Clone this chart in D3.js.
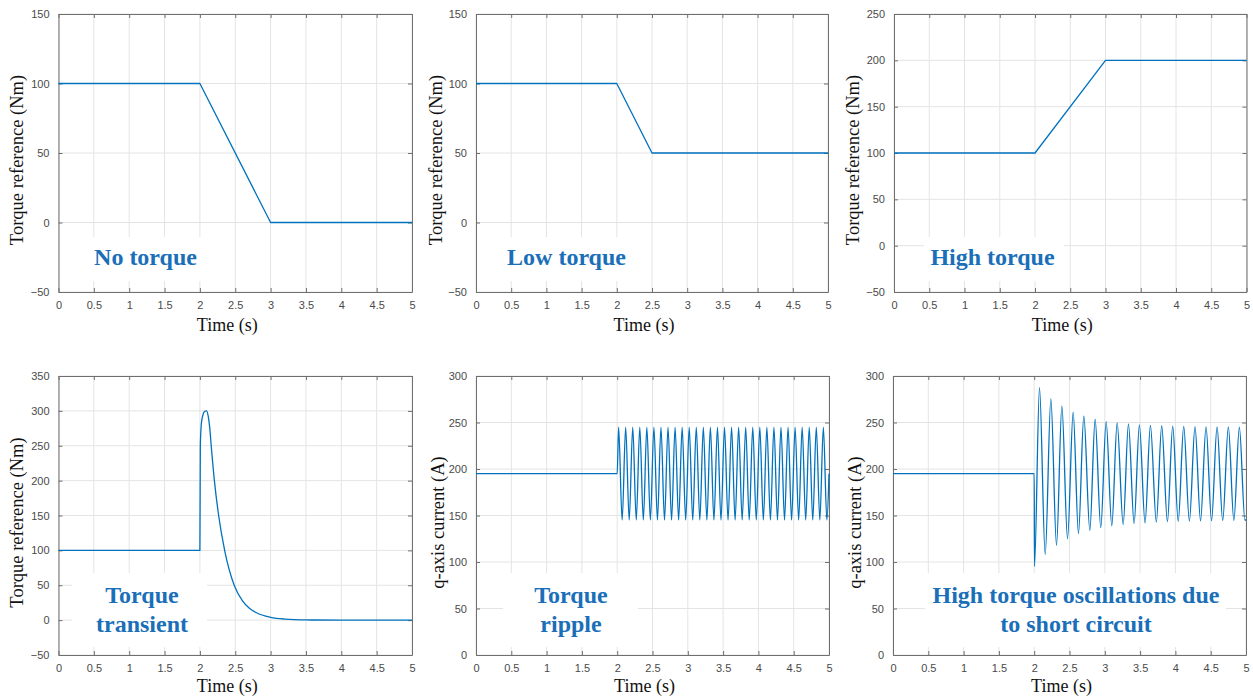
<!DOCTYPE html>
<html>
<head>
<meta charset="utf-8">
<script src="https://cdn.jsdelivr.net/npm/d3@7"></script>
<style>
  body { margin: 0; background: #fff; }
  svg { display: block; }
</style>
</head>
<body>
<svg id="chart" width="1253" height="698"></svg>
<script>
// ---- Axis ticks ----
const timeTicks = [0, 0.5, 1, 1.5, 2, 2.5, 3, 3.5, 4, 4.5, 5];
const timeTickLabels = ["0", "0.5", "1", "1.5", "2", "2.5", "3", "3.5", "4", "4.5", "5"];
const torqueTicksLow = [-50, 0, 50, 100, 150];
const torqueTicksHigh = [-50, 0, 50, 100, 150, 200, 250];
const torqueTicksTransient = [-50, 0, 50, 100, 150, 200, 250, 300, 350];
const currentTicks = [0, 50, 100, 150, 200, 250, 300];

// ---- Torque reference profiles (Nm) ----
const noTorqueTime = [0, 2, 3, 5];
const noTorqueValue = [100, 100, 0, 0];

const lowTorqueTime = [0, 2, 2.5, 5];
const lowTorqueValue = [100, 100, 50, 50];

const highTorqueTime = [0, 2, 3, 5];
const highTorqueValue = [100, 100, 200, 200];

const transientTime = [0, 2.0, 2.006, 2.02, 2.04, 2.065, 2.095, 2.12, 2.14, 2.16, 2.205, 2.265, 2.35, 2.485, 2.6, 2.7, 2.8, 3.0, 3.2, 3.5, 4.0, 5.0];
const transientValue = [100, 100, 250, 281, 293, 299, 300, 291, 275, 250, 200, 150, 100, 50, 28, 17, 10.5, 4, 1.5, 0.3, 0, 0];

// ---- q-axis current (A): turning points of the traces ----
const rippleTime = [0, 2.0,
  2.02, 2.07, 2.12, 2.17, 2.22, 2.27, 2.32, 2.37, 2.42, 2.47,
  2.52, 2.57, 2.62, 2.67, 2.72, 2.77, 2.82, 2.87, 2.92, 2.97,
  3.02, 3.07, 3.12, 3.17, 3.22, 3.27, 3.32, 3.37, 3.42, 3.47,
  3.52, 3.57, 3.62, 3.67, 3.72, 3.77, 3.82, 3.87, 3.92, 3.97,
  4.02, 4.07, 4.12, 4.17, 4.22, 4.27, 4.32, 4.37, 4.42, 4.47,
  4.52, 4.57, 4.62, 4.67, 4.72, 4.77, 4.82, 4.87, 4.92, 4.97,
  5.0];
const rippleValue = [195, 195,
  245, 145, 245, 145, 245, 145, 245, 145, 245, 145,
  245, 145, 245, 145, 245, 145, 245, 145, 245, 145,
  245, 145, 245, 145, 245, 145, 245, 145, 245, 145,
  245, 145, 245, 145, 245, 145, 245, 145, 245, 145,
  245, 145, 245, 145, 245, 145, 245, 145, 245, 145,
  245, 145, 245, 145, 245, 145, 245, 145, 245, 145,
  195];

const shortCircuitTime = [0, 2.0, 2.004,
  2.075, 2.156, 2.236, 2.316, 2.392, 2.472, 2.552, 2.627, 2.703, 2.788,
  2.863, 2.943, 3.019, 3.099, 3.175, 3.26, 3.335, 3.415, 3.49, 3.57,
  3.646, 3.73, 3.806, 3.887, 3.962, 4.04, 4.118, 4.198, 4.278, 4.356,
  4.434, 4.512, 4.59, 4.67, 4.75, 4.828, 4.906, 4.985, 5.0];
const shortCircuitValue = [195, 195, 95,
  287.5, 108, 275.5, 118, 267.5, 125, 261, 130.5, 257, 134,
  253.5, 137, 251, 139, 249.5, 140.5, 248.5, 141.5, 247.5, 142,
  247, 142.8, 246.5, 143.3, 246, 143.7, 245.8, 144, 245.6, 144.2,
  245.4, 144.4, 245.3, 144.5, 245.2, 144.6, 245.1, 144.7, 146];

// ---- Panel layout ----
const panels = [
  { frame: { l: 58.5, r: 412, t: 14, b: 292 }, domain: [-50, 150], ticks: torqueTicksLow,
    yTitle: "Torque reference (Nm)", yTitleX: 17, xTitleY: 331, time: noTorqueTime, value: noTorqueValue,
    curve: d3.curveLinear, note: ["No torque"], noteX: 145.5, noteY: [265],
    box: { l: 84, r: 207, t: 237, b: 281 } },
  { frame: { l: 476, r: 828, t: 14, b: 292 }, domain: [-50, 150], ticks: torqueTicksLow,
    yTitle: "Torque reference (Nm)", yTitleX: 436, xTitleY: 331, time: lowTorqueTime, value: lowTorqueValue,
    curve: d3.curveLinear, note: ["Low torque"], noteX: 566.5, noteY: [265],
    box: { l: 500, r: 634, t: 237, b: 281 } },
  { frame: { l: 894, r: 1246.5, t: 14, b: 292 }, domain: [-50, 250], ticks: torqueTicksHigh,
    yTitle: "Torque reference (Nm)", yTitleX: 853, xTitleY: 331, time: highTorqueTime, value: highTorqueValue,
    curve: d3.curveLinear, note: ["High torque"], noteX: 992.5, noteY: [265],
    box: { l: 924, r: 1064, t: 237, b: 281 } },
  { frame: { l: 58.5, r: 412, t: 376, b: 655 }, domain: [-50, 350], ticks: torqueTicksTransient,
    yTitle: "Torque reference (Nm)", yTitleX: 17, xTitleY: 692, time: transientTime, value: transientValue,
    curve: d3.curveMonotoneX, note: ["Torque", "transient"], noteX: 142, noteY: [603, 631.5],
    box: { l: 72, r: 207, t: 573, b: 647 } },
  { frame: { l: 476, r: 829, t: 376, b: 655 }, domain: [0, 300], ticks: currentTicks,
    yTitle: "q-axis current (A)", yTitleX: 438, xTitleY: 692, time: rippleTime, value: rippleValue,
    curve: d3.curveMonotoneX, note: ["Torque", "ripple"], noteX: 571, noteY: [603, 631.5],
    box: { l: 503, r: 638, t: 573, b: 647 } },
  { frame: { l: 893, r: 1246, t: 376, b: 655 }, domain: [0, 300], ticks: currentTicks,
    yTitle: "q-axis current (A)", yTitleX: 855, xTitleY: 692, time: shortCircuitTime, value: shortCircuitValue,
    curve: d3.curveMonotoneX, note: ["High torque oscillations due", "to short circuit"], noteX: 1076, noteY: [603, 631.5],
    box: { l: 925, r: 1226, t: 573, b: 647 } }
];

const svg = d3.select("#chart");
const axisColor = "#6f6f6f";
const gridColor = "#e4e4e4";
const lineColor = "#0072BD";
const noteColor = "#1a6fb8";
const tickLen = 4;

panels.forEach(p => {
  const f = p.frame;
  const x = d3.scaleLinear().domain([0, 5]).range([f.l, f.r]);
  const y = d3.scaleLinear().domain(p.domain).range([f.b, f.t]);
  const g = svg.append("g");

  // grid
  g.append("g").selectAll("line.vx").data(timeTicks).join("line")
    .attr("x1", d => x(d)).attr("x2", d => x(d))
    .attr("y1", f.t).attr("y2", f.b)
    .attr("stroke", gridColor).attr("stroke-width", 1);
  g.append("g").selectAll("line.hy").data(p.ticks).join("line")
    .attr("x1", f.l).attr("x2", f.r)
    .attr("y1", d => y(d)).attr("y2", d => y(d))
    .attr("stroke", gridColor).attr("stroke-width", 1);

  // text background
  g.append("rect")
    .attr("x", p.box.l).attr("y", p.box.t)
    .attr("width", p.box.r - p.box.l).attr("height", p.box.b - p.box.t)
    .attr("fill", "#fff");

  // axes: bottom/left with labels, top/right mirrored ticks, all pointing inward
  const xAxis = d3.axisBottom(x).tickValues(timeTicks)
    .tickFormat((d, i) => timeTickLabels[i]).tickSizeInner(-tickLen).tickSizeOuter(0).tickPadding(9);
  const xAxisTop = d3.axisTop(x).tickValues(timeTicks).tickFormat("").tickSizeInner(-tickLen).tickSizeOuter(0);
  const yAxis = d3.axisLeft(y).tickValues(p.ticks).tickFormat(d3.format("d"))
    .tickSizeInner(-tickLen).tickSizeOuter(0).tickPadding(9);
  const yAxisRight = d3.axisRight(y).tickValues(p.ticks).tickFormat("").tickSizeInner(-tickLen).tickSizeOuter(0);

  const styleAxis = sel => {
    sel.select(".domain").attr("stroke", axisColor).attr("stroke-width", 1);
    sel.selectAll(".tick line").attr("stroke", axisColor).attr("stroke-width", 1);
    sel.selectAll(".tick text").attr("fill", "#4a4a4a")
      .style("font-family", "'Liberation Sans', Arial, sans-serif").style("font-size", "11px");
  };

  g.append("g").attr("transform", `translate(0,${f.b})`).call(xAxis).call(styleAxis);
  g.append("g").attr("transform", `translate(0,${f.t})`).call(xAxisTop).call(styleAxis);
  g.append("g").attr("transform", `translate(${f.l},0)`).call(yAxis).call(styleAxis);
  g.append("g").attr("transform", `translate(${f.r},0)`).call(yAxisRight).call(styleAxis);

  // trace
  const pts = p.time.map((t, i) => [t, p.value[i]]);
  const line = d3.line().x(d => x(d[0])).y(d => y(d[1])).curve(p.curve);
  g.append("path").datum(pts)
    .attr("d", line)
    .attr("fill", "none")
    .attr("stroke", lineColor)
    .attr("stroke-width", 1.3)
    .attr("stroke-linejoin", "round");

  // axis titles
  g.append("text")
    .attr("x", (f.l + f.r) / 2 - 8)
    .attr("y", p.xTitleY)
    .attr("text-anchor", "middle")
    .style("font-family", "'Liberation Serif', 'Times New Roman', serif")
    .style("font-size", "18px")
    .attr("fill", "#111")
    .text("Time (s)");

  g.append("text")
    .attr("transform", `translate(${p.yTitleX},${(f.t + f.b) / 2 + 7}) rotate(-90)`)
    .attr("text-anchor", "middle")
    .attr("dominant-baseline", "central")
    .style("font-family", "'Liberation Serif', 'Times New Roman', serif")
    .style("font-size", "18.5px")
    .attr("fill", "#111")
    .text(p.yTitle);

  // annotation
  p.note.forEach((s, i) => {
    g.append("text")
      .attr("x", p.noteX).attr("y", p.noteY[i])
      .attr("text-anchor", "middle")
      .style("font-family", "'Liberation Serif', 'Times New Roman', serif")
      .style("font-weight", "bold")
      .style("font-size", "24px")
      .attr("fill", noteColor)
      .text(s);
  });
});
</script>
</body>
</html>
